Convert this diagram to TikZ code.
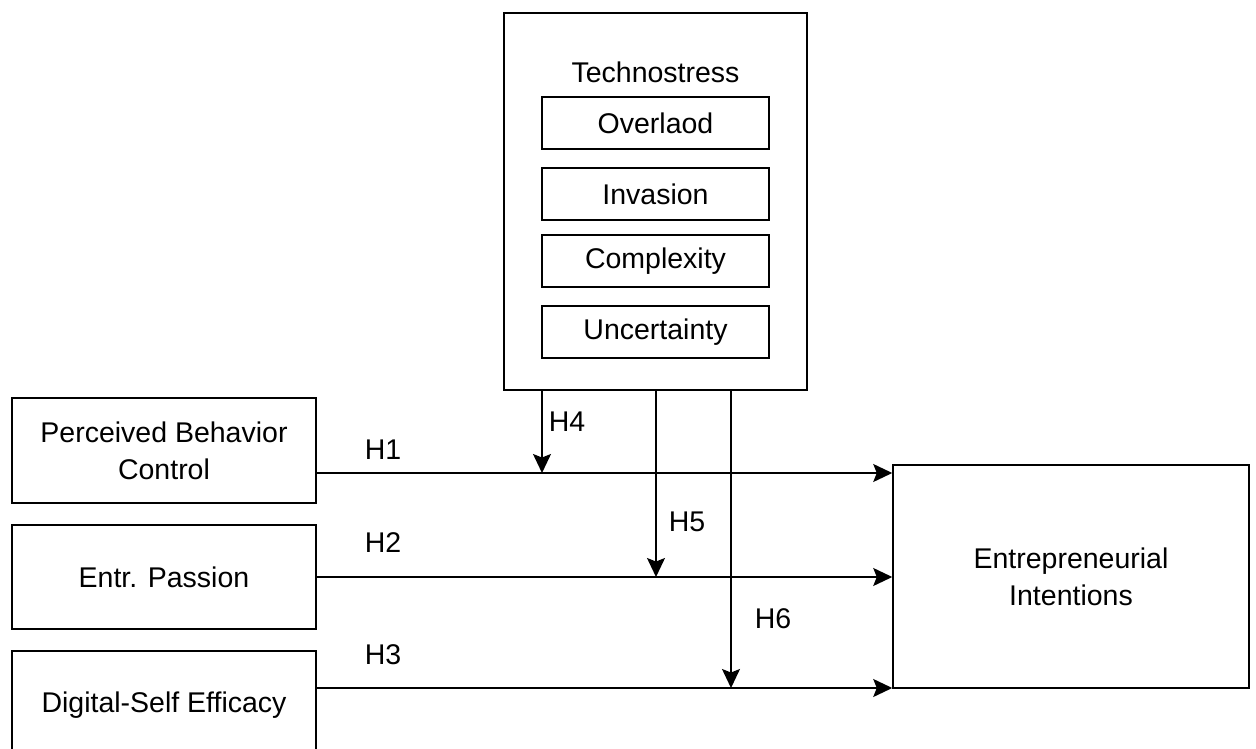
\documentclass[tikz,border=0pt]{standalone}
\usepackage{fontspec}
\setmainfont{Liberation Sans}
\usetikzlibrary{arrows.meta,calc}
\begin{document}
\begin{tikzpicture}[x=1pt,y=-1pt,
  box/.style={draw,line width=1.5pt,rectangle,inner sep=0pt,align=center,
    font=\fontsize{28.5}{37}\selectfont},
  lbl/.style={font=\fontsize{28.5}{37}\selectfont,inner sep=0pt},
  arr/.style={line width=1.5pt,-{Stealth[length=19pt,width=18pt,inset=3.5pt]}}]
\useasboundingbox (0,0) rectangle (1256,749);
% Technostress container
\node[box,minimum width=303pt,minimum height=377pt] (tech) at (655.5,201.5) {};
\node[lbl] (techlbl) at (655.5,72) {Technostress};
\node[box,minimum width=227pt,minimum height=52pt] (over) at (655.5,123) {Overlaod};
\node[box,minimum width=227pt,minimum height=52pt] (inv) at (655.5,194) {Invasion};
\node[box,minimum width=227pt,minimum height=52pt] (comp) at (655.5,261) {Complexity};
\node[box,minimum width=227pt,minimum height=52pt] (unc) at (655.5,332) {Uncertainty};
% left boxes
\node[box,minimum width=304pt,minimum height=105pt] (pbc) at (164,450.5) {Perceived Behavior\\Control};
\node[box,minimum width=304pt,minimum height=104pt] (ep) at (164,577) {Entr. Passion};
\node[box,minimum width=304pt,minimum height=109pt] (dse) at (164,705.5) {Digital-Self Efficacy};
% outcome
\node[box,minimum width=356pt,minimum height=223pt] (ei) at (1071,576.5) {Entrepreneurial\\Intentions};
% junctions
\coordinate (j4) at (542,473);
\coordinate (j5) at (656,577);
\coordinate (j6) at (731,688);
% horizontal arrows
\draw[arr] (pbc.east |- j4) -- (ei.west |- j4);
\draw[arr] (ep.east |- j5) -- (ei.west |- j5);
\draw[arr] (dse.east |- j6) -- (ei.west |- j6);
% vertical arrows
\draw[arr] (tech.south -| j4) -- (j4);
\draw[arr] (tech.south -| j5) -- (j5);
\draw[arr] (tech.south -| j6) -- (j6);
% labels
\node[lbl] (h1) at (383,450) {H1};
\node[lbl] (h2) at (383,543) {H2};
\node[lbl] (h3) at (383,655) {H3};
\node[lbl] (h4) at (567,422) {H4};
\node[lbl] (h5) at (687,522) {H5};
\node[lbl] (h6) at (773,619) {H6};
\end{tikzpicture}
\end{document}
